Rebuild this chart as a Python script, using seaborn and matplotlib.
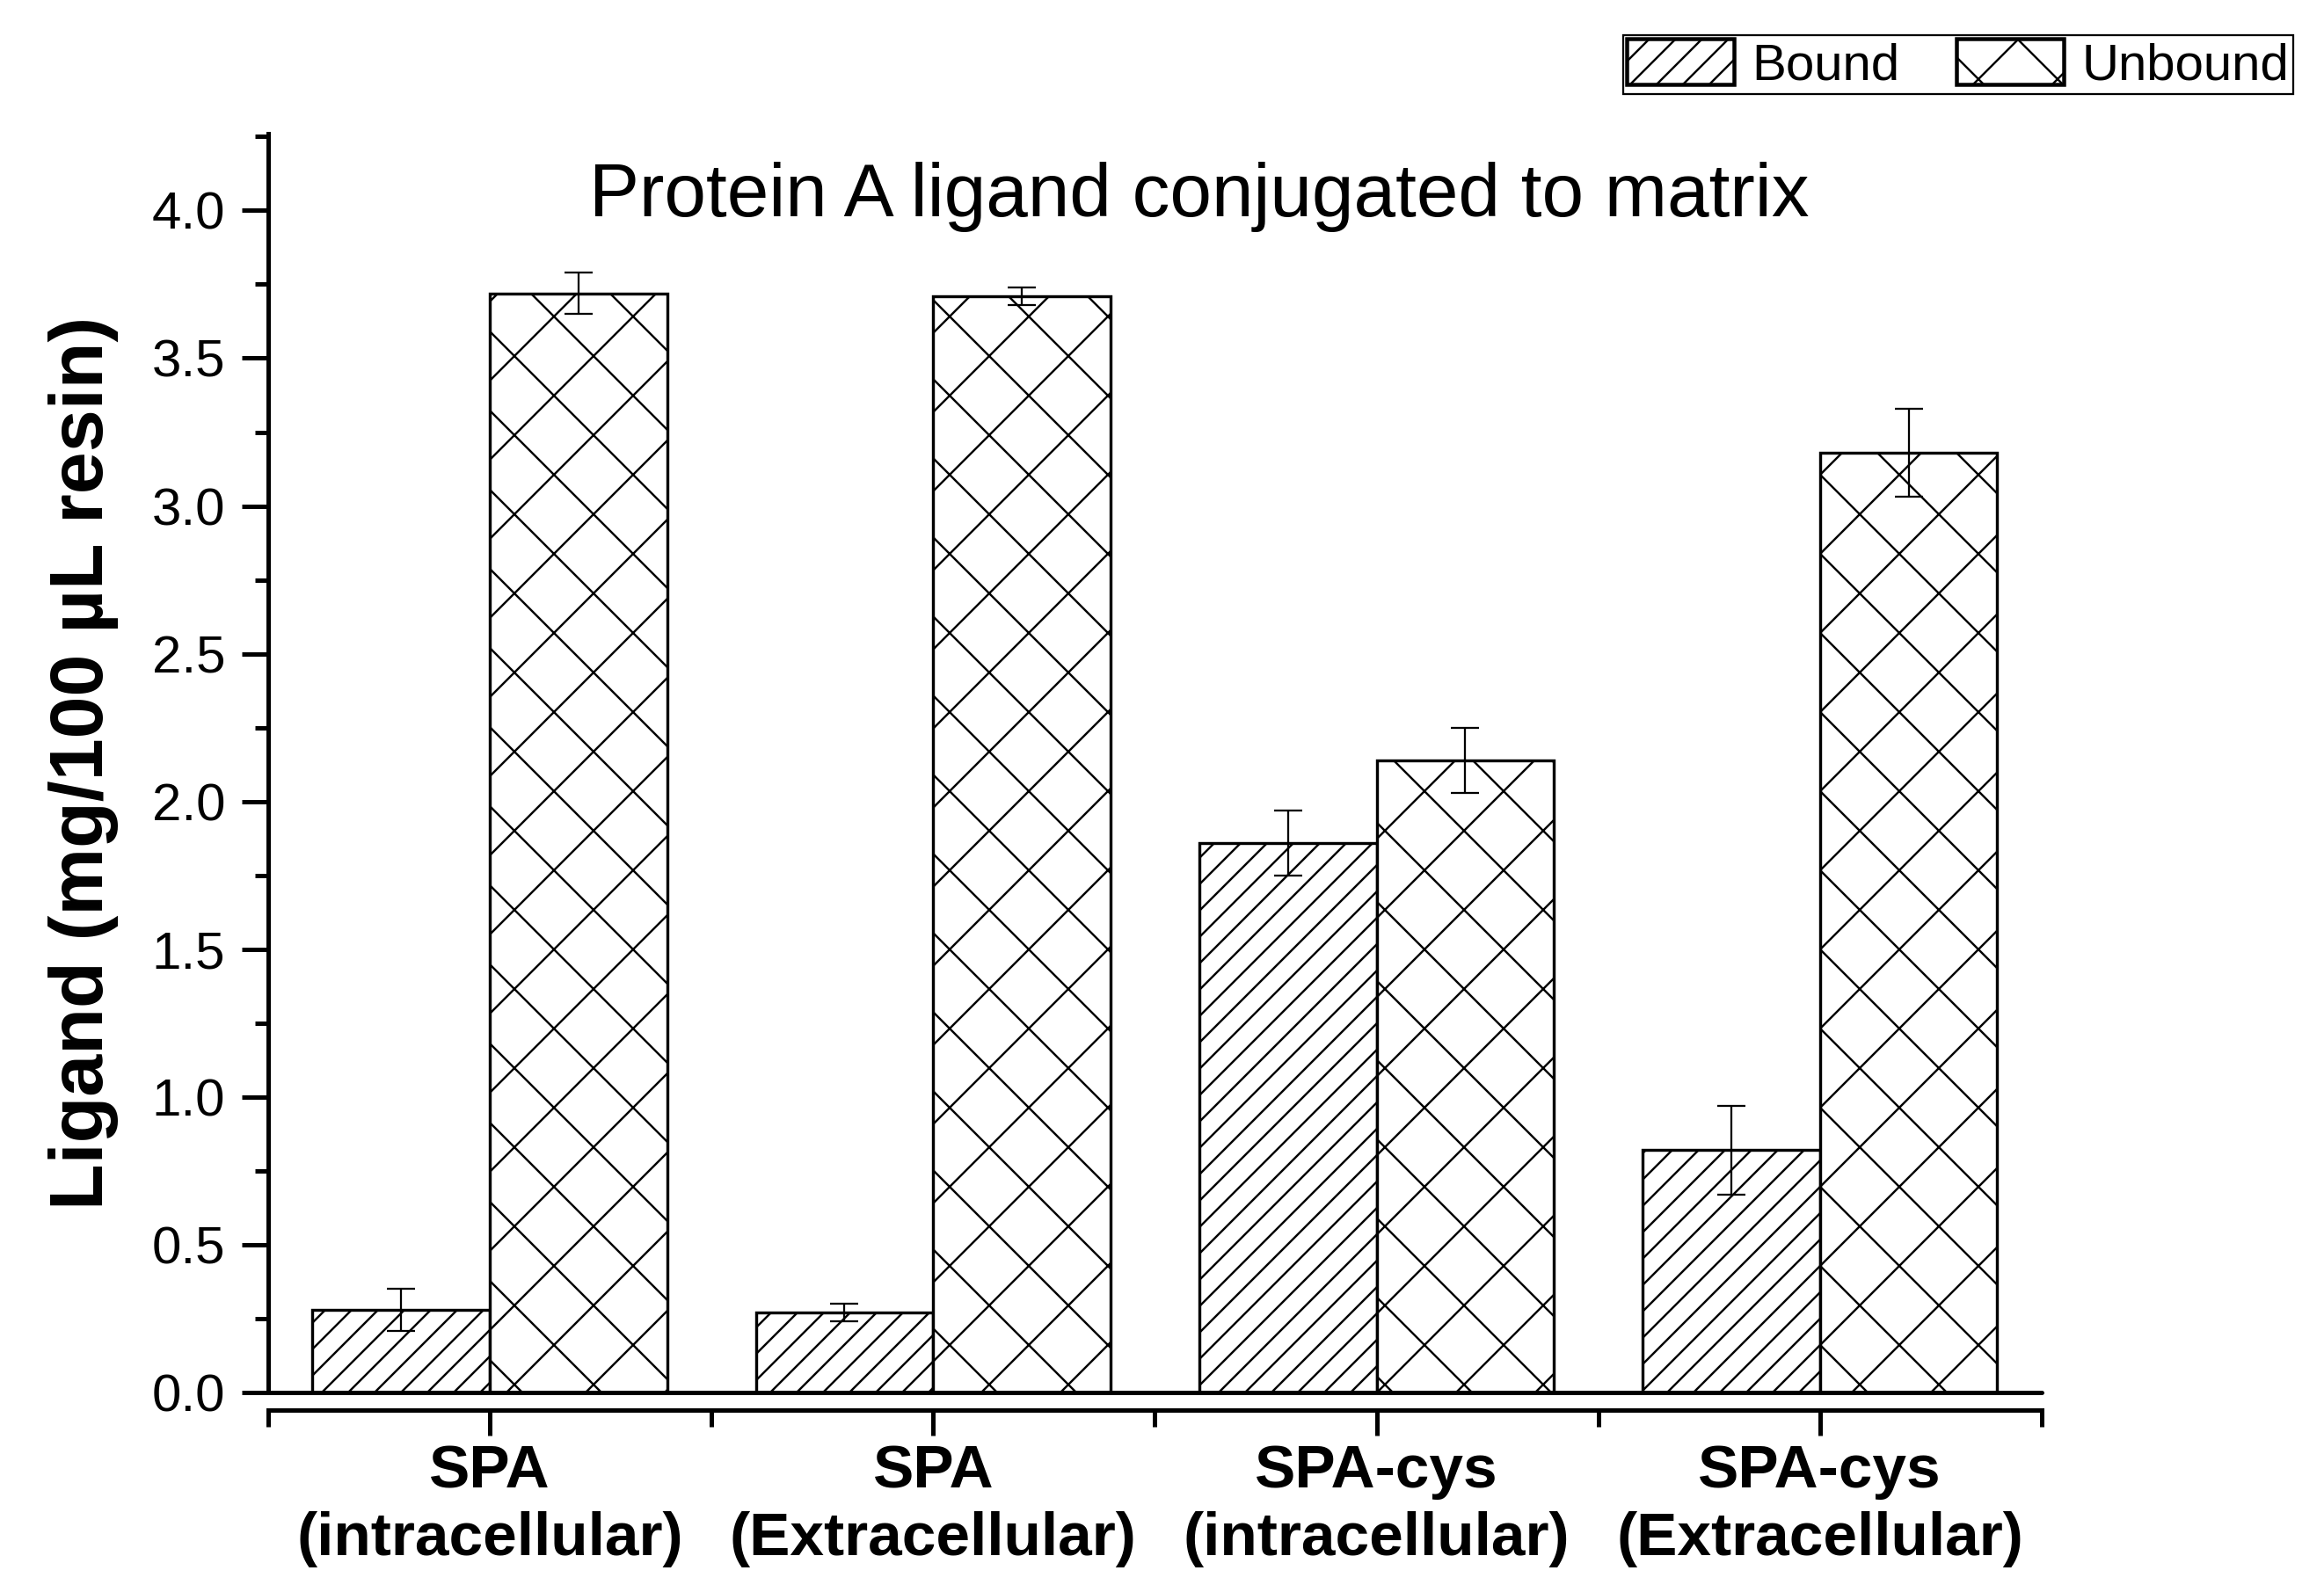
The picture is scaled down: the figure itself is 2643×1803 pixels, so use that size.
import matplotlib
matplotlib.use('Agg')
import matplotlib.pyplot as plt
import matplotlib.patches as mpatches
from matplotlib.ticker import MultipleLocator, FixedLocator, FormatStrFormatter
import seaborn as sns
import pandas as pd

# 数据
groups = ['SPA\n(intracellular)', 'SPA\n(Extracellular)',
          'SPA-cys\n(intracellular)', 'SPA-cys\n(Extracellular)']
series = ['Bound', 'Unbound']
bound = [0.28, 0.27, 1.86, 0.82]
bound_err = [0.07, 0.03, 0.11, 0.15]
unbound = [3.72, 3.71, 2.14, 3.18]
unbound_err = [0.07, 0.03, 0.11, 0.15]
hatches = ['///', 'x']

df = pd.DataFrame({
    'group': groups * 2,
    'series': ['Bound'] * len(groups) + ['Unbound'] * len(groups),
    'value': bound + unbound,
})

sns.set_style('ticks')
plt.rcParams['font.family'] = ['Liberation Sans', 'DejaVu Sans']
plt.rcParams['hatch.linewidth'] = 0.65
plt.rcParams['hatch.color'] = 'black'
for key in ['text.color', 'axes.labelcolor', 'xtick.color', 'ytick.color', 'axes.edgecolor']:
    plt.rcParams[key] = 'black'

DPI = 270
fig = plt.figure(figsize=(2643 / DPI, 1803 / DPI), dpi=DPI)
ax = fig.add_axes([0.1154, 0.1214, 0.8785 - 0.1154, 0.9157 - 0.1214])

sns.barplot(data=df, x='group', y='value', hue='series',
            palette=['white', 'white'], saturation=1,
            edgecolor='black', linewidth=0.9, width=0.8,
            errorbar=None, legend=False, ax=ax)

# 阴影 + 误差线
for cont, h, err in zip(ax.containers, hatches, [bound_err, unbound_err]):
    for bar in cont:
        bar.set_hatch(h)
    xs = [b.get_x() + b.get_width() / 2 for b in cont]
    ys = [b.get_height() for b in cont]
    ax.errorbar(xs, ys, yerr=err, fmt='none', ecolor='black',
                elinewidth=0.6, capsize=4.2, capthick=0.6, zorder=5)

lw = 1.33
ax.set_xlim(-0.5, 3.5)
ax.set_ylim(0, 4.26)
ax.spines[['top', 'right']].set_visible(False)
ax.spines['left'].set_linewidth(lw)
ax.spines['bottom'].set_linewidth(lw)
ax.spines['bottom'].set_position(('outward', 5.3))
ax.axhline(0, color='black', lw=lw, clip_on=False, zorder=6)

ax.yaxis.set_major_locator(MultipleLocator(0.5))
ax.yaxis.set_minor_locator(MultipleLocator(0.25))
ax.yaxis.set_major_formatter(FormatStrFormatter('%.1f'))
ax.xaxis.set_minor_locator(FixedLocator([-0.5, 0.5, 1.5, 2.5, 3.5]))

ax.tick_params(axis='y', which='major', length=8, width=lw, labelsize=16, pad=5)
ax.tick_params(axis='y', which='minor', length=4, width=lw)
ax.tick_params(axis='x', which='major', length=7.7, width=lw, pad=2.5)
ax.tick_params(axis='x', which='minor', length=5, width=lw, bottom=True)
for lab in ax.get_xticklabels():
    lab.set_fontsize(18.5)
    lab.set_fontweight('bold')
    lab.set_linespacing(1.25)

ax.set_xlabel('')
ax.set_ylabel('Ligand (mg/100 µL resin)', fontsize=23, fontweight='bold', labelpad=10)

ax.text(0.525, 0.95, 'Protein A ligand conjugated to matrix', transform=ax.transAxes,
        ha='center', va='center', fontsize=22.8)

handles = [mpatches.Patch(facecolor='white', edgecolor='black', hatch=h, lw=1.2, label=s)
           for h, s in zip(hatches, series)]
leg = fig.legend(handles=handles, loc='upper right', bbox_to_anchor=(0.9866, 0.978),
                 ncol=2, frameon=True, fancybox=False, edgecolor='black', framealpha=1,
                 fontsize=15.5, handlelength=2.1, handleheight=1.0, handletextpad=0.35,
                 columnspacing=1.1, borderaxespad=0, borderpad=0.08)
leg.get_frame().set_linewidth(0.6)

fig.savefig('out.png', dpi=DPI)
plt.close()
